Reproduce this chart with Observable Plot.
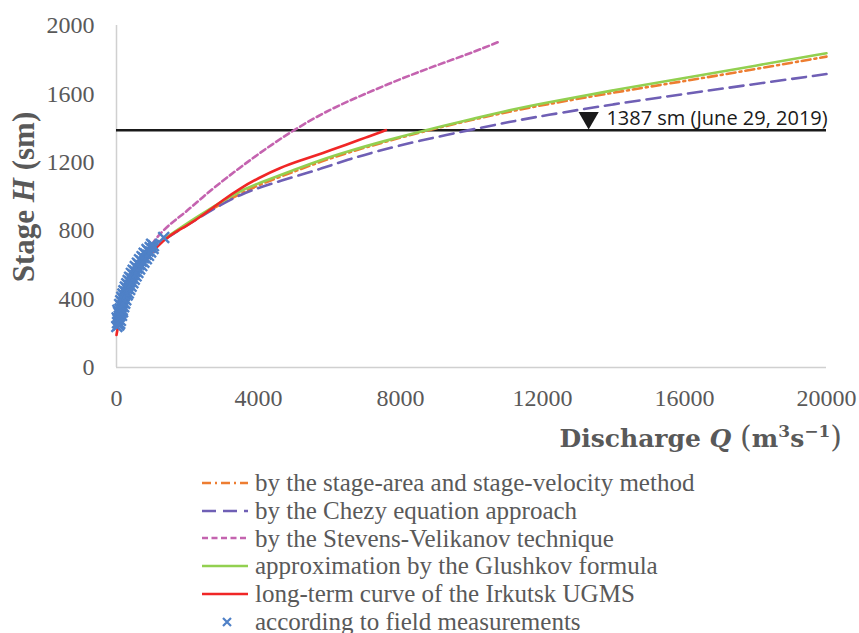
<!DOCTYPE html>
<html><head><meta charset="utf-8">
<script src="https://cdn.jsdelivr.net/npm/d3@7"></script>
<script src="https://cdn.jsdelivr.net/npm/@observablehq/plot@0.6"></script>
<style>
html,body{margin:0;padding:0;background:#fff;overflow:hidden;}
#wrap{position:relative;width:859px;height:633px;}
#chart{position:absolute;left:0;top:0;}
#legend{position:absolute;left:200px;top:469px;font-family:"Liberation Serif",serif;font-size:25px;color:#595959;}
.row{display:flex;align-items:center;height:27.8px;white-space:nowrap;}
.row svg{flex:none;margin-right:5px;}
</style></head><body>
<div id="wrap"><div id="chart"></div><div id="legend"></div></div>
<script>
// ---- data ----
const xTicks = [0, 4000, 8000, 12000, 16000, 20000];
const yTicks = [0, 400, 800, 1200, 1600, 2000];

const seriesNames = [
  "by the stage-area and stage-velocity method",
  "by the Chezy equation approach",
  "by the Stevens-Velikanov technique",
  "approximation by the Glushkov formula",
  "long-term curve of the Irkutsk UGMS",
  "according to field measurements"
];

const stageArea = [[1400,755],[2000,840],[3000,965],[4000,1070],[5000,1145],[5755,1205],[6600,1262],[7500,1316],[8700,1384],[10000,1448],[11100,1498],[12000,1535],[14000,1608],[16000,1675],[18000,1745],[20000,1818]];
const chezy = [[1400,755],[2000,835],[3000,960],[3500,1010],[4000,1052],[5000,1115],[5755,1162],[6500,1215],[7353,1266],[8500,1325],[9900,1387],[11114,1438],[12000,1472],[14000,1540],[16000,1600],[18000,1658],[20000,1716]];
const stevens = [[1000,720],[1100,754],[1500,840],[1900,899],[2500,1010],[3100,1110],[4000,1250],[4956,1386],[6037,1513],[7000,1600],[8000,1688],[9000,1766],[10000,1840],[10740,1902]];
const glushkov = [[1400,760],[2000,845],[2500,910],[3000,975],[3500,1035],[4000,1078],[5000,1155],[5755,1214],[6600,1269],[7500,1322],[8660,1386],[10000,1452],[11100,1507],[12000,1545],[14000,1622],[16000,1692],[18000,1765],[20000,1838]];
const irkutsk = [[0,190],[50,250],[150,330],[300,420],[500,510],[800,620],[1100,700],[1500,775],[2000,830],[2500,900],[3000,980],[3500,1050],[4000,1108],[4600,1168],[5200,1212],[5800,1253],[6500,1305],[7000,1343],[7590,1388]];
const measured = [
  [10,240],[60,248],[30,262],[90,258],[50,282],[110,276],[20,290],[80,300],[140,305],
  [60,322],[120,318],[170,326],[100,342],[160,338],[40,335],[130,360],[200,355],[90,368],
  [160,382],[230,376],[120,390],[190,402],[260,396],[150,410],[220,420],[300,424],[180,430],
  [260,442],[330,436],[210,448],[300,462],[370,456],[250,470],[330,482],[410,476],[290,490],
  [380,502],[460,496],[330,508],[420,522],[500,516],[370,528],[470,542],[550,536],[420,550],
  [520,562],[600,556],[470,568],[580,582],[650,576],[530,590],[630,602],[710,596],[590,610],
  [700,622],[770,616],[650,630],[760,642],[840,636],[720,648],[830,662],[900,656],[780,668],
  [890,682],[960,676],[860,690],[950,702],[1030,696],[1040,713],[990,720],[1330,760]
];

const levelH = [1387];
const levelMarker = [[13300, 1460]];
const annotations = [{q: 13800, h: 1456, label: "1387 sm (June 29, 2019)"}];

// ---- styles ----
const styles = [
  {stroke: "#ED7D31", dash: "9,4,2,4"},
  {stroke: "#6F5FB5", dash: "14,7"},
  {stroke: "#C463AF", dash: "6,3.5"},
  {stroke: "#92D050", dash: null},
  {stroke: "#F02626", dash: null},
  {stroke: "#4F81C7", marker: true}
];
const lineData = [stageArea, chezy, stevens, glushkov, irkutsk];

const lineMarks = lineData.map((d, i) => Plot.line(d, {
  stroke: styles[i].stroke, strokeWidth: 2.6, strokeDasharray: styles[i].dash || undefined, curve: "basis"
}));

const chart = Plot.plot({
  width: 859, height: 460,
  marginLeft: 116, marginRight: 33, marginTop: 25, marginBottom: 93,
  style: {fontFamily: "Liberation Serif", fontSize: "24px", color: "#595959", background: "#fff", overflow: "visible"},
  x: {domain: [0, 20000], ticks: xTicks, tickFormat: d3.format("d"), tickSize: 0, tickPadding: 21, label: null},
  y: {domain: [0, 2000], ticks: yTicks, tickFormat: d3.format("d"), tickSize: 0, tickPadding: 22, label: null},
  marks: [
    Plot.ruleX([0], {stroke: "#d0d0d0", strokeWidth: 1.5}),
    Plot.ruleY([0], {stroke: "#d0d0d0", strokeWidth: 1.5}),
    Plot.ruleY(levelH, {x1: 0, x2: 20000, stroke: "#1a1a1a", strokeWidth: 2.6}),
    ...lineMarks,
    Plot.dot(measured, {symbol: "times", r: 5, stroke: styles[5].stroke, strokeWidth: 2.4}),
    Plot.dot(levelMarker, {symbol: "triangle", r: 7.5, rotate: 180, fill: "#1a1a1a", stroke: "none"}),
    Plot.text(annotations, {x: "q", y: "h", text: "label", textAnchor: "start", fontFamily: "Open Sans", fontSize: 20, fill: "#1a1a1a"})
  ]
});
document.getElementById("chart").appendChild(chart);

const svg = d3.select(chart);
const yl = svg.append("text").attr("transform", "translate(34,197) rotate(-90)")
  .attr("text-anchor", "middle").attr("font-family", "Liberation Serif").attr("font-weight", "bold")
  .attr("font-size", 31).attr("fill", "#595959");
yl.append("tspan").text("Stage ");
yl.append("tspan").attr("font-style", "italic").text("H");
yl.append("tspan").text(" (sm)");

const xl = svg.append("text").attr("x", 842).attr("y", 447).attr("text-anchor", "end")
  .attr("font-family", "DejaVu Serif").attr("font-weight", "bold").attr("font-size", 25).attr("fill", "#595959");
xl.append("tspan").text("Discharge ");
xl.append("tspan").attr("font-style", "italic").text("Q");
xl.append("tspan").text(" ");
xl.append("tspan").attr("font-weight", "normal").attr("font-size", 30).text("(");
xl.append("tspan").text("m");
xl.append("tspan").attr("font-size", 17).attr("dy", -10).text("3");
xl.append("tspan").attr("dy", 10).text("s");
xl.append("tspan").attr("font-size", 17).attr("dy", -10).text("−1");
xl.append("tspan").attr("dy", 10).attr("font-weight", "normal").attr("font-size", 30).text(")");

// legend
const legend = d3.select("#legend");
seriesNames.forEach((name, i) => {
  const row = legend.append("div").attr("class", "row");
  const sw = row.append("svg").attr("width", 50).attr("height", 12);
  if (styles[i].marker) {
    sw.append("path").attr("d", "M23,2L31,10M31,2L23,10").attr("stroke", styles[i].stroke).attr("stroke-width", 2.2);
  } else {
    sw.append("line").attr("x1", 2).attr("x2", 48).attr("y1", 6).attr("y2", 6)
      .attr("stroke", styles[i].stroke).attr("stroke-width", 2.6)
      .attr("stroke-dasharray", styles[i].dash);
  }
  row.append("span").text(name);
});
</script>
</body></html>
